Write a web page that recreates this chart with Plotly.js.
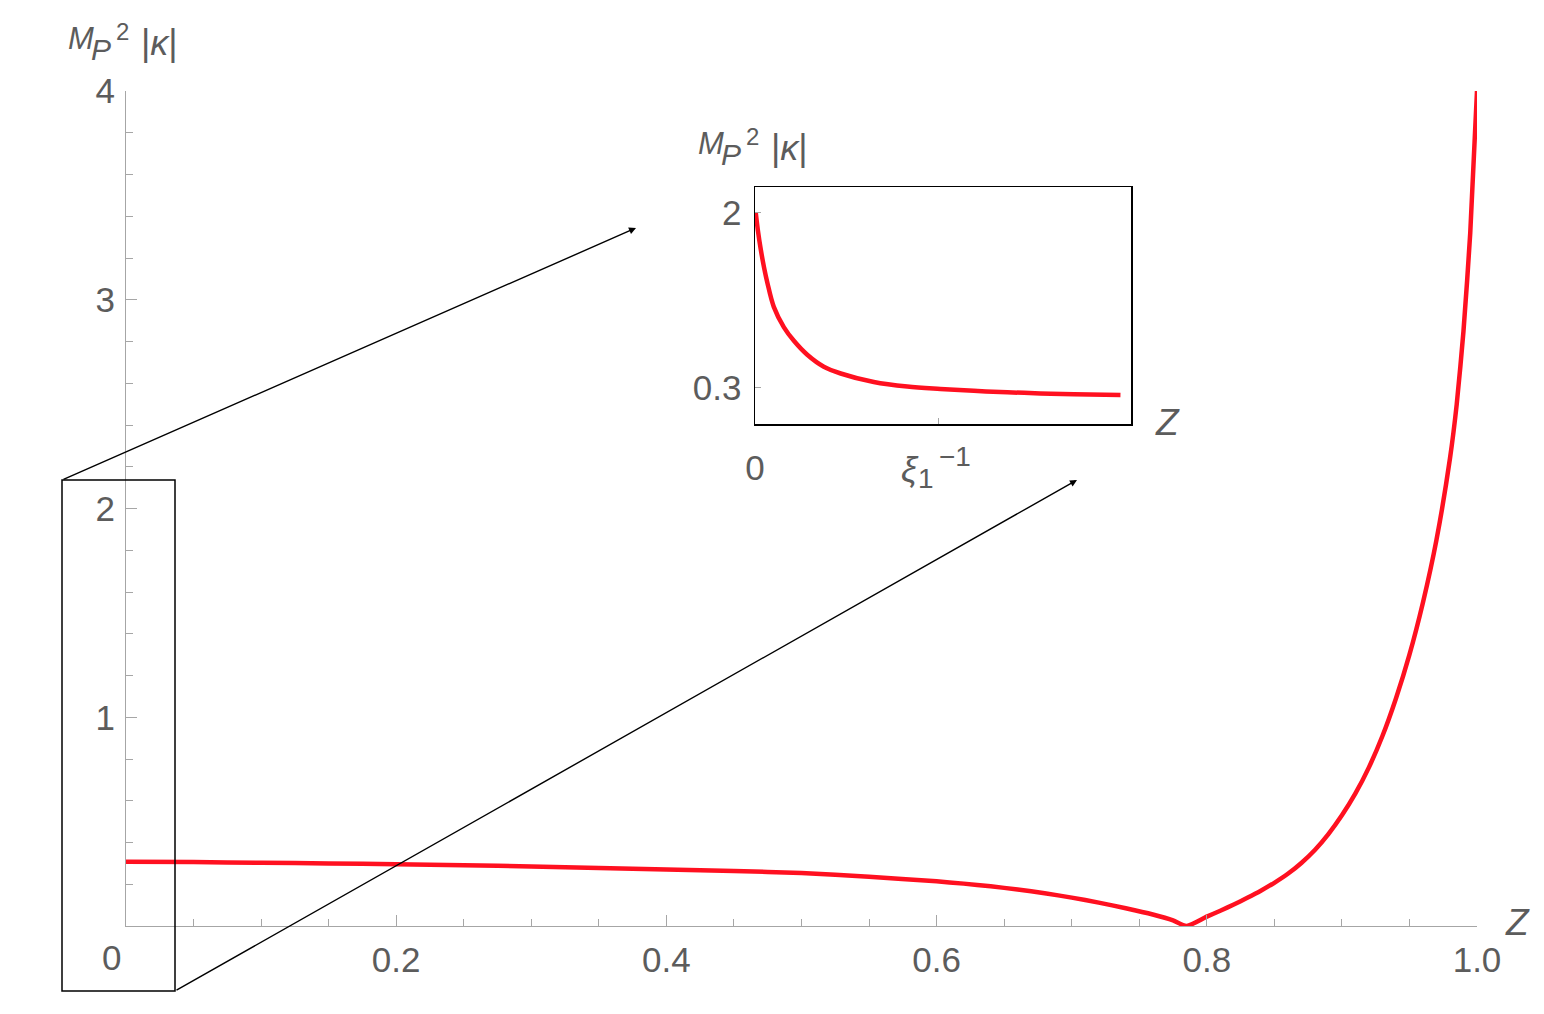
<!DOCTYPE html>
<html>
<head>
<meta charset="utf-8">
<script src="https://cdn.plot.ly/plotly-3.0.1.min.js"></script>
<style>
  body { margin: 0; background: #fff; }
  #plot { width: 1544px; height: 1014px; }
</style>
</head>
<body>
<div id="plot"></div>
<script>
// main curve: Z vs M_P^2 |kappa|
let zMain = [0, 0.05, 0.1, 0.15, 0.2, 0.25, 0.3, 0.35, 0.4, 0.45, 0.5, 0.55, 0.6, 0.62, 0.64, 0.66, 0.68, 0.7, 0.72, 0.74, 0.76, 0.775, 0.785,
             0.8, 0.81, 0.82, 0.83, 0.84, 0.85, 0.86, 0.87, 0.88, 0.89, 0.9, 0.91, 0.92, 0.93, 0.94, 0.95, 0.96, 0.97, 0.98, 0.985, 0.99, 0.995, 1.0];
let kMain = [0.308, 0.306, 0.303, 0.300, 0.296, 0.291, 0.285, 0.278, 0.271, 0.263, 0.254, 0.236, 0.214, 0.203, 0.19, 0.175, 0.157, 0.136, 0.112, 0.085, 0.055, 0.027, 0.0,
             0.045, 0.073, 0.103, 0.135, 0.169, 0.207, 0.25, 0.302, 0.364, 0.44, 0.53, 0.635, 0.76, 0.91, 1.09, 1.30, 1.55, 1.85, 2.24, 2.50, 2.85, 3.32, 4.0];

// inset curve (schematic, small Z)
let zInset = [0.002, 0.008, 0.015, 0.024, 0.033, 0.05, 0.077, 0.104, 0.139, 0.183, 0.228, 0.316, 0.405, 0.493, 0.582, 0.671, 0.759, 0.848, 0.972];
let kInset = [2.0, 1.82, 1.651, 1.47, 1.319, 1.087, 0.888, 0.755, 0.622, 0.506, 0.44, 0.357, 0.313, 0.29, 0.272, 0.258, 0.247, 0.238, 0.231];

let mainXTicks = [0, 0.2, 0.4, 0.6, 0.8, 1.0];
let mainXText = ['', '0.2', '0.4', '0.6', '0.8', '1.0'];
let mainYTicks = [0, 1, 2, 3, 4];
let mainYText = ['', '1', '2', '3', '4'];
let insetXTicks = [0, 0.488];
let insetXText = ['0', ''];
let insetYTicks = [0.3, 2];
let insetYText = ['0.3', '2'];

// pixel -> paper helpers (plot area 126..1477, 91..926)
const L = 126, R = 1477, T = 91, B = 926;
const px = v => (v - L) / (R - L);
const py = v => (B - v) / (B - T);

const red = 'rgb(255,16,32)';
const gray = '#a6a6a6';
const txt = '#5c5c5c';
const fam = 'Liberation Sans, Arial, sans-serif';

// text piece placed by its left edge / vertical middle, in pixels
function piece(text, x, y, size) {
  return {xref: 'paper', yref: 'paper', x: px(x), y: py(y), text: text, showarrow: false,
          xanchor: 'left', yanchor: 'middle', font: {size: size}};
}
// M_P^2 |kappa| written in pieces so sub/superscripts keep full size
function kappaTitle(x, y) {
  return [
    piece('<i>M</i>', x - 3, y, 31),
    piece('<i>P</i>', x + 20, y + 11, 30),
    piece('2', x + 45, y - 7, 24),
    piece('|<i>κ</i>|', x + 70, y + 4, 36)
  ];
}

let main = {
  x: zMain, y: kMain, type: 'scatter', mode: 'lines',
  line: {color: red, width: 4.5, shape: 'spline', smoothing: 0.6},
  cliponaxis: false, hoverinfo: 'skip'
};
let inset = {
  x: zInset, y: kInset, xaxis: 'x2', yaxis: 'y2', type: 'scatter', mode: 'lines',
  line: {color: red, width: 4.5, shape: 'spline', smoothing: 1},
  hoverinfo: 'skip'
};

let layout = {
  width: 1544, height: 1014, autosize: false,
  margin: {l: L, r: 1544 - R, t: T, b: 1014 - B},
  paper_bgcolor: '#fff', plot_bgcolor: 'rgba(0,0,0,0)',
  showlegend: false,
  font: {family: fam, color: txt, size: 35},
  xaxis: {
    range: [0, 1], showgrid: false, zeroline: false,
    showline: true, linecolor: gray, linewidth: 1,
    ticks: 'inside', ticklen: 11, tickcolor: gray, tickwidth: 1,
    tickvals: mainXTicks, ticktext: mainXText, ticklabelstandoff: 3,
    minor: {ticks: 'inside', dtick: 0.05, ticklen: 7, tickcolor: gray, tickwidth: 1, showgrid: false}
  },
  yaxis: {
    range: [0, 4], showgrid: false, zeroline: false,
    showline: true, linecolor: gray, linewidth: 1,
    ticks: 'inside', ticklen: 11, tickcolor: gray, tickwidth: 1,
    tickvals: mainYTicks, ticktext: mainYText, ticklabelstandoff: 3,
    minor: {ticks: 'inside', dtick: 0.2, ticklen: 7, tickcolor: gray, tickwidth: 1, showgrid: false}
  },
  xaxis2: {
    domain: [px(755), px(1131)], anchor: 'y2', range: [0, 1],
    showgrid: false, zeroline: false, showline: true, mirror: true,
    linecolor: '#000', linewidth: 1.5,
    ticks: 'inside', ticklen: 6, tickcolor: gray,
    tickvals: insetXTicks, ticktext: insetXText, ticklabelstandoff: 12
  },
  yaxis2: {
    domain: [py(424), py(187)], anchor: 'x2', range: [-0.05, 2.25],
    showgrid: false, zeroline: false, showline: true, mirror: true,
    linecolor: '#000', linewidth: 1.5,
    ticks: 'inside', ticklen: 6, tickcolor: gray,
    tickvals: insetYTicks, ticktext: insetYText, ticklabelstandoff: 5
  },
  shapes: [
    {type: 'rect', xref: 'paper', yref: 'paper', x0: px(62), x1: px(175), y0: py(991), y1: py(480),
     line: {color: '#000', width: 1.5}}
  ],
  annotations: [
    {xref: 'paper', yref: 'paper', x: px(636), y: py(228), ax: 62 - 636, ay: 480 - 228,
     showarrow: true, arrowhead: 2, arrowsize: 1, arrowwidth: 1.4, arrowcolor: '#000', text: ''},
    {xref: 'paper', yref: 'paper', x: px(1077), y: py(480), ax: 175 - 1077, ay: 991 - 480,
     showarrow: true, arrowhead: 2, arrowsize: 1, arrowwidth: 1.4, arrowcolor: '#000', text: ''},
    {xref: 'paper', yref: 'paper', x: px(111), y: py(958), text: '0', showarrow: false,
     xanchor: 'center', yanchor: 'middle'},
    // inset tick label xi_1^-1
    piece('<i>ξ</i>', 899, 469, 36),
    piece('1', 916, 479, 28),
    piece('−1', 937, 456, 28),
    {xref: 'paper', yref: 'paper', x: px(1517), y: py(922), text: '<i>Z</i>', showarrow: false,
     xanchor: 'center', yanchor: 'middle', font: {size: 37}},
    {xref: 'paper', yref: 'paper', x: px(1167), y: py(423), text: '<i>Z</i>', showarrow: false,
     xanchor: 'center', yanchor: 'middle', font: {size: 37}}
  ].concat(kappaTitle(69, 38), kappaTitle(699, 143))
};

Plotly.newPlot('plot', [main, inset], layout, {staticPlot: true});
</script>
</body>
</html>
